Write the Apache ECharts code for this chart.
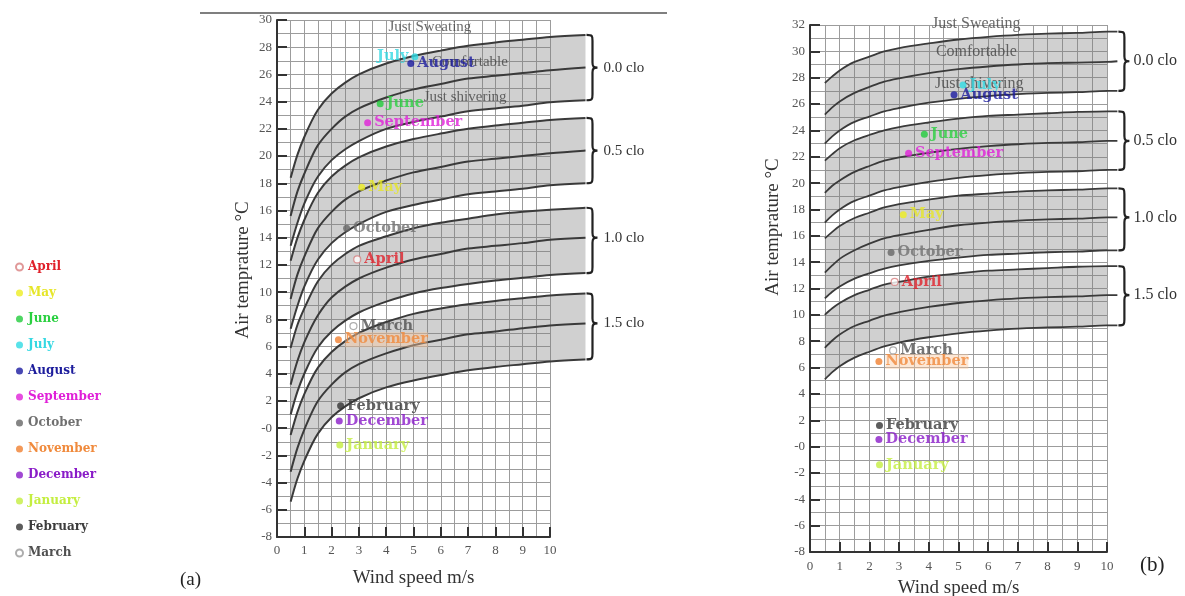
<!DOCTYPE html>
<html><head><meta charset="utf-8">
<script src="https://cdn.jsdelivr.net/npm/echarts@6/dist/echarts.min.js"></script>
<style>html,body{margin:0;padding:0;background:#fff}#c{width:1185px;height:596px}</style>
</head><body><div id="c"></div>
<script>
// ---------- DATA ----------
const months = ['April','May','June','July','August','September','October','November','December','January','February','March'];
// panel (a) monthly points: wind speed (m/s) and air temperature (°C)
const windA = [2.94, 3.1, 3.78, 5.05, 4.9, 3.32, 2.55, 2.25, 2.28, 2.3, 2.33, 2.8];
const tempA = [12.4, 17.7, 23.85, 27.3, 26.8, 22.45, 14.7, 6.5, 0.53, -1.24, 1.64, 7.5];
// panel (b) monthly points
const windB = [2.85, 3.14, 3.85, 5.15, 4.85, 3.32, 2.73, 2.32, 2.32, 2.34, 2.34, 2.8];
const tempB = [12.5, 17.6, 23.7, 27.45, 26.7, 22.27, 14.74, 6.45, 0.53, -1.38, 1.6, 7.3];

// comfort curves, panel (a)
const windCurveA = [0.5, 0.75, 1, 1.5, 2, 2.5, 3, 4, 5, 6, 7, 8, 9, 10, 11.3];
const a00Sweat   = [18.4, 20.1, 21.4, 23.4, 24.6, 25.4, 26.0, 26.8, 27.35, 27.75, 28.1, 28.35, 28.55, 28.75, 28.9];
const a00Comfort = [15.6, 17.4, 18.7, 20.8, 22.0, 22.9, 23.5, 24.3, 24.9, 25.3, 25.7, 25.9, 26.1, 26.3, 26.5];
const a00Shiver  = [13.4, 15.1, 16.5, 18.5, 19.7, 20.5, 21.1, 22.0, 22.5, 22.9, 23.3, 23.5, 23.7, 23.95, 24.1];
const a05Sweat   = [12.3, 14.0, 15.3, 17.3, 18.5, 19.3, 19.9, 20.7, 21.25, 21.65, 22.0, 22.25, 22.45, 22.65, 22.8];
const a05Comfort = [9.5, 11.3, 12.6, 14.7, 15.9, 16.8, 17.4, 18.2, 18.8, 19.2, 19.6, 19.8, 20.0, 20.2, 20.4];
const a05Shiver  = [7.3, 9.0, 10.4, 12.4, 13.6, 14.4, 15.0, 15.9, 16.4, 16.8, 17.2, 17.4, 17.6, 17.85, 18.0];
const a10Sweat   = [5.9, 7.6, 8.8, 10.8, 12.0, 12.8, 13.4, 14.1, 14.7, 15.1, 15.4, 15.7, 15.9, 16.05, 16.2];
const a10Comfort = [3.2, 4.95, 6.3, 8.3, 9.6, 10.4, 11.0, 11.8, 12.4, 12.8, 13.2, 13.4, 13.6, 13.85, 14.0];
const a10Shiver  = [1.0, 2.7, 4.0, 5.95, 7.1, 7.9, 8.5, 9.3, 9.9, 10.3, 10.6, 10.85, 11.05, 11.25, 11.4];
const a15Sweat   = [-0.5, 1.2, 2.5, 4.45, 5.6, 6.4, 7.0, 7.8, 8.4, 8.8, 9.1, 9.35, 9.55, 9.75, 9.9];
const a15Comfort = [-3.2, -1.45, -0.1, 2.0, 3.2, 4.1, 4.7, 5.5, 6.1, 6.5, 6.9, 7.1, 7.35, 7.55, 7.7];
const a15Shiver  = [-5.4, -3.7, -2.4, -0.4, 0.8, 1.6, 2.2, 3.0, 3.5, 3.9, 4.25, 4.5, 4.7, 4.9, 5.05];

// comfort curves, panel (b)
const windCurveB = [0.5, 0.75, 1, 1.5, 2, 2.5, 3, 4, 5, 6, 7, 8, 9, 10, 10.35];
const b00Sweat   = [27.6, 28.1, 28.55, 29.2, 29.6, 30.0, 30.25, 30.6, 30.9, 31.1, 31.25, 31.35, 31.4, 31.5, 31.5];
const b00Comfort = [25.2, 25.75, 26.2, 26.85, 27.3, 27.7, 27.95, 28.35, 28.65, 28.85, 29.0, 29.1, 29.15, 29.2, 29.25];
const b00Shiver  = [23.0, 23.55, 24.0, 24.65, 25.05, 25.45, 25.7, 26.1, 26.4, 26.6, 26.75, 26.85, 26.9, 27.0, 27.0];
const b05Sweat   = [21.7, 22.2, 22.65, 23.25, 23.65, 24.0, 24.25, 24.6, 24.9, 25.1, 25.2, 25.3, 25.4, 25.45, 25.45];
const b05Comfort = [19.25, 19.8, 20.2, 20.85, 21.3, 21.7, 21.95, 22.3, 22.6, 22.8, 22.95, 23.05, 23.1, 23.2, 23.2];
const b05Shiver  = [17.0, 17.55, 18.0, 18.65, 19.05, 19.45, 19.7, 20.1, 20.4, 20.6, 20.75, 20.85, 20.9, 21.0, 21.0];
const b10Sweat   = [15.8, 16.3, 16.75, 17.35, 17.75, 18.15, 18.4, 18.75, 19.05, 19.2, 19.35, 19.45, 19.5, 19.6, 19.6];
const b10Comfort = [13.2, 13.75, 14.25, 14.9, 15.4, 15.8, 16.05, 16.45, 16.8, 17.0, 17.15, 17.25, 17.3, 17.4, 17.4];
const b10Shiver  = [11.25, 11.75, 12.15, 12.75, 13.15, 13.5, 13.75, 14.1, 14.35, 14.55, 14.65, 14.75, 14.8, 14.9, 14.9];
const b15Sweat   = [10.0, 10.5, 10.9, 11.5, 11.9, 12.3, 12.5, 12.9, 13.15, 13.35, 13.45, 13.55, 13.65, 13.7, 13.7];
const b15Comfort = [7.5, 8.05, 8.5, 9.15, 9.55, 9.95, 10.2, 10.6, 10.9, 11.1, 11.25, 11.35, 11.4, 11.5, 11.5];
const b15Shiver  = [5.1, 5.65, 6.1, 6.75, 7.2, 7.6, 7.9, 8.3, 8.6, 8.8, 8.95, 9.05, 9.1, 9.2, 9.2];

const cloLabels = ['0.0 clo', '0.5 clo', '1.0 clo', '1.5 clo'];
const noteTexts = ['Just Sweating', 'Comfortable', 'Just shivering'];
const noteWindA = [5.6, 7.07, 6.89];
const noteTempA = [29.5, 26.9, 24.3];
const noteWindB = [5.6, 5.6, 5.7];
const noteTempB = [32.1, 30.0, 27.5];

// ---------- STYLES ----------
const monthTextColors = ['#e0202a','#e6e628','#2ad040','#35d8e2','#1c1c9c','#e020d8','#707070','#f08a3c','#8a1cc8','#c4ee40','#3c3c3c','#505050'];
const monthDotColors  = ['#ffffff','#eeee20','#22cc3c','#30dbe4','#1a1aa0','#e020d8','#666666','#f08030','#8a1cc8','#c4ee40','#333333','#ffffff'];
const monthDotBorders = ['#d88080',null,null,null,null,null,null,null,null,null,null,'#999999'];
const labelSideA = ['right','right','right','left','right','right','right','right','right','right','right','right'];

const chart = echarts.init(document.getElementById('c'), null, {renderer:'canvas'});

const gridLine = {color:'#9c9c9c', width:1};
function visAxisX(gi, max, nameGap, margin){
  return {gridIndex:gi, type:'value', min:0, max:max, interval:1,
    axisLine:{show:true, onZero:false, lineStyle:{color:'#333', width:2}},
    axisTick:{show:true, inside:true, length:10, lineStyle:{color:'#333', width:2}},
    minorTick:{show:false, splitNumber:2},
    axisLabel:{margin:margin, color:'#555', fontFamily:'Liberation Serif', fontSize:13},
    splitLine:{show:true, lineStyle:gridLine},
    minorSplitLine:{show:true, lineStyle:gridLine},
    name:'Wind speed m/s', nameLocation:'middle', nameGap:nameGap,
    nameTextStyle:{fontFamily:'Liberation Serif', fontSize:19, color:'#333'}};
}
function visAxisY(gi, min, max){
  return {gridIndex:gi, type:'value', min:min, max:max, interval:2,
    axisLine:{show:true, onZero:false, lineStyle:{color:'#333', width:2}},
    axisTick:{show:true, inside:true, length:10, lineStyle:{color:'#333', width:2}},
    minorTick:{show:false, splitNumber:2},
    axisLabel:{margin:5, color:'#555', fontFamily:'Liberation Serif', fontSize:13,
      formatter:v => v === 0 ? '-0' : String(v)},
    splitLine:{show:true, lineStyle:gridLine},
    minorSplitLine:{show:true, lineStyle:gridLine}};
}
function hidAxis(gi, min, max){ return {gridIndex:gi, type:'value', min:min, max:max, show:false}; }

// monotone cubic segments through pixel points (x increasing)
function segs(p){
  const n = p.length, dx = [], s = [], m = new Array(n);
  for (let i = 0; i < n - 1; i++){ dx[i] = p[i+1][0] - p[i][0]; s[i] = (p[i+1][1] - p[i][1]) / dx[i]; }
  for (let i = 1; i < n - 1; i++){
    if (s[i-1] * s[i] <= 0) m[i] = 0;
    else m[i] = 3 * (dx[i-1] + dx[i]) / ((2 * dx[i] + dx[i-1]) / s[i-1] + (dx[i] + 2 * dx[i-1]) / s[i]);
  }
  m[0] = (3 * s[0] - m[1]) / 2; if (m[0] * s[0] <= 0) m[0] = 0;
  m[n-1] = (3 * s[n-2] - m[n-2]) / 2; if (m[n-1] * s[n-2] <= 0) m[n-1] = 0;
  const out = [];
  for (let i = 0; i < n - 1; i++){
    const h = dx[i] / 3;
    out.push([p[i], [p[i][0] + h, p[i][1] + m[i] * h], [p[i+1][0] - h, p[i+1][1] - m[i+1] * h], p[i+1]]);
  }
  return out;
}
const pt = q => q[0].toFixed(2) + ',' + q[1].toFixed(2);

function bandSeries(xs, groups, ai, n){
  return {type:'custom', xAxisIndex:ai, yAxisIndex:ai, clip:false, silent:true, z:1,
    data:groups.map((g, k) => [k, 0]),
    renderItem:(params, api) => {
      const g = groups[params.dataIndex];
      const up = xs.slice(0, n).map((x, i) => api.coord([x, g[0][i]]));
      const lo = xs.slice(0, n).map((x, i) => api.coord([x, g[2][i]]));
      const su = segs(up), sl = segs(lo);
      let d = 'M' + pt(up[0]);
      su.forEach(s => { d += ' C' + pt(s[1]) + ' ' + pt(s[2]) + ' ' + pt(s[3]); });
      d += ' L' + pt(lo[n-1]);
      for (let k = sl.length - 1; k >= 0; k--){ const s = sl[k]; d += ' C' + pt(s[2]) + ' ' + pt(s[1]) + ' ' + pt(s[0]); }
      d += ' Z';
      return {type:'path', shape:{pathData:d}, style:{fill:'rgba(125,125,125,0.36)', stroke:null}};
    }};
}
function curveSeriesAll(xs, curves, ai, w){
  return {type:'custom', xAxisIndex:ai, yAxisIndex:ai, clip:false, silent:true, z:3,
    data:curves.map((c, k) => [k, 0]),
    renderItem:(params, api) => {
      const c = curves[params.dataIndex];
      const p = xs.map((x, i) => api.coord([x, c[i]]));
      let d = 'M' + pt(p[0]);
      segs(p).forEach(s => { d += ' C' + pt(s[1]) + ' ' + pt(s[2]) + ' ' + pt(s[3]); });
      return {type:'path', shape:{pathData:d}, style:{stroke:'#3a3a3a', lineWidth:w, fill:'none'}};
    }};
}
function braceSeries(xs, groups, ai, labelGap, fontSize){
  const xEnd = xs[xs.length - 1];
  const data = groups.map(g => [xEnd, g[0][g[0].length-1], g[2][g[2].length-1], g[1][g[1].length-1]]);
  return {type:'custom', xAxisIndex:ai, yAxisIndex:ai, clip:false, silent:true, z:5, data:data,
    renderItem:(params, api) => {
      const pt0 = api.coord([api.value(0), api.value(1)]);
      const pb = api.coord([api.value(0), api.value(2)]);
      const pm = api.coord([api.value(0), api.value(3)]);
      const x0 = pt0[0] + 1, x1 = x0 + 6, x2 = x1 + 5;
      const yt = pt0[1], yb = pb[1], ym = pm[1];
      const d = `M${x0},${yt} C${x1},${yt} ${x1},${yt+1} ${x1},${yt+6} L${x1},${ym-5} C${x1},${ym-1} ${x1+1},${ym} ${x2},${ym} C${x1+1},${ym} ${x1},${ym+1} ${x1},${ym+5} L${x1},${yb-6} C${x1},${yb-1} ${x1},${yb} ${x0},${yb}`;
      return {type:'group', children:[
        {type:'path', shape:{pathData:d}, style:{stroke:'#222', lineWidth:2.2, fill:'none'}},
        {type:'text', style:{text:cloLabels[params.dataIndex], x:x0 + labelGap, y:ym,
          font:fontSize + 'px "Liberation Serif"', fill:'#333', align:'left', verticalAlign:'middle'}}
      ]};
    }};
}

const groupsA = [[a00Sweat,a00Comfort,a00Shiver],[a05Sweat,a05Comfort,a05Shiver],[a10Sweat,a10Comfort,a10Shiver],[a15Sweat,a15Comfort,a15Shiver]];
const groupsB = [[b00Sweat,b00Comfort,b00Shiver],[b05Sweat,b05Comfort,b05Shiver],[b10Sweat,b10Comfort,b10Shiver],[b15Sweat,b15Comfort,b15Shiver]];

const series = [];
series.push(bandSeries(windCurveA, groupsA, 1, windCurveA.length));
series.push(bandSeries(windCurveB, groupsB, 3, 14));
series.push(curveSeriesAll(windCurveA, groupsA.flat(), 1, 2));
series.push(curveSeriesAll(windCurveB, groupsB.flat(), 3, 1.8));
series.push(braceSeries(windCurveA, groupsA, 1, 17, 15));
series.push(braceSeries(windCurveB, groupsB, 3, 15, 16));

function noteSeries(ws, ts, ai, fs){
  return {type:'scatter', xAxisIndex:ai, yAxisIndex:ai, symbolSize:1, silent:true, z:4, clip:false,
    itemStyle:{color:'rgba(0,0,0,0)'},
    data:ws.map((w, i) => ({value:[w, ts[i]], label:{formatter:noteTexts[i]}})),
    label:{show:true, position:'inside', fontFamily:'Liberation Serif', fontSize:fs, color:'#444'}};
}
series.push(noteSeries(noteWindA, noteTempA, 0, 15));
series.push(noteSeries(noteWindB, noteTempB, 2, 16));

months.forEach((m, i) => {
  const style = {color:monthDotColors[i]};
  if (monthDotBorders[i]) { style.borderColor = monthDotBorders[i]; style.borderWidth = 1.2; }
  const lab = (side) => ({show:true, position:side, distance:3, formatter:m, color:monthTextColors[i],
    fontFamily:'DejaVu Serif', fontWeight:'bold', fontSize:14.5,
    backgroundColor: m === 'November' ? 'rgba(250,200,160,0.55)' : 'transparent'});
  series.push({name:m, type:'scatter', xAxisIndex:0, yAxisIndex:0, symbolSize:7, z:6,
    itemStyle:style, data:[[windA[i], tempA[i]]], label:lab(labelSideA[i])});
  series.push({name:m, type:'scatter', xAxisIndex:2, yAxisIndex:2, symbolSize:7, z:6,
    itemStyle:style, data:[[windB[i], tempB[i]]], label:lab('right')});
});

const G = {outerBoundsMode:'none', containLabel:false};
const option = {
  animation:false,
  backgroundColor:'#ffffff',
  grid:[
    Object.assign({left:277, top:20, width:273, height:517}, G),
    Object.assign({left:277, top:20, width:273 * 1.14, height:517}, G),
    Object.assign({left:810, top:25, width:297, height:527}, G),
    Object.assign({left:810, top:25, width:297 * 1.05, height:527}, G)
  ],
  xAxis:[visAxisX(0, 10, 32, 7), hidAxis(1, 0, 11.4), visAxisX(2, 10, 27, 8), hidAxis(3, 0, 10.5)],
  yAxis:[visAxisY(0, -8, 30), hidAxis(1, -8, 30), visAxisY(2, -8, 32), hidAxis(3, -8, 32)],
  legend:{orient:'vertical', left:10, top:255, itemWidth:7, itemHeight:7, itemGap:12, icon:'circle',
    data:months.map((m, i) => ({name:m, textStyle:{color:monthTextColors[i]}})),
    textStyle:{fontFamily:'DejaVu Serif', fontWeight:'bold', fontSize:12, lineHeight:14}},
  graphic:[
    {type:'line', shape:{x1:200, y1:13, x2:667, y2:13}, style:{stroke:'#555', lineWidth:1.5}},
    {type:'text', x:243, y:270, rotation:Math.PI/2, style:{text:'Air temprature °C', font:'19px "Liberation Serif"', fill:'#333', align:'center', verticalAlign:'middle'}},
    {type:'text', x:773, y:227, rotation:Math.PI/2, style:{text:'Air temprature °C', font:'19px "Liberation Serif"', fill:'#333', align:'center', verticalAlign:'middle'}},
    {type:'text', x:180, y:580, style:{text:'(a)', font:'19px "Liberation Serif"', fill:'#222', verticalAlign:'middle'}},
    {type:'text', x:1140, y:565, style:{text:'(b)', font:'21px "Liberation Serif"', fill:'#222', verticalAlign:'middle'}}
  ],
  series:series
};
chart.setOption(option);
</script></body></html>
